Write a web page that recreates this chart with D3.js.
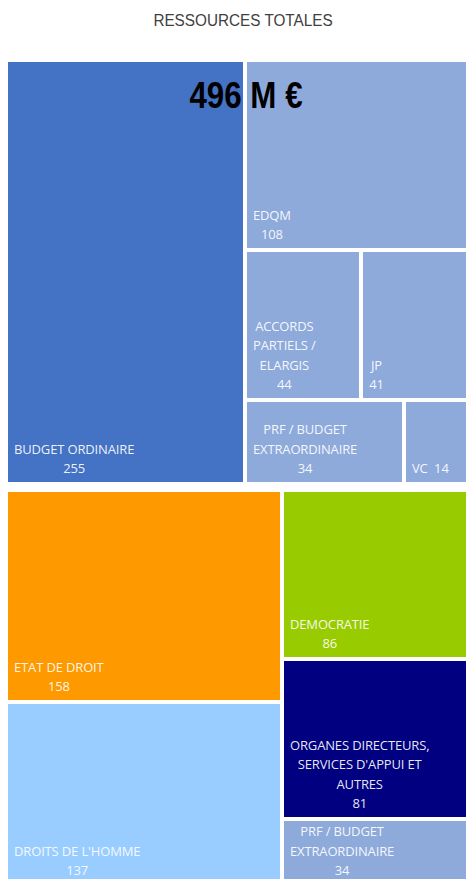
<!DOCTYPE html>
<html>
<head>
<meta charset="utf-8">
<script src="https://cdn.jsdelivr.net/npm/d3@7"></script>
<style>
  body { margin: 0; background: #fff; }
  svg { display: block; }
  .title { font-family: "Liberation Sans Narrow", "Arial Narrow", "Liberation Sans", Arial, sans-serif; }
  .cell-label { font-family: "Open Sans", "Noto Sans", sans-serif; font-size: 13px; fill: #fff; fill-opacity: 0.92; letter-spacing: -0.15px; }
</style>
</head>
<body>
<div id="chart"></div>
<script>
// ressources totales, en millions d'euros
const chartTitle = "RESSOURCES TOTALES"
const totalLabel = "496 M €"

// bloc du haut : par source de financement
const sourceNames = ["BUDGET ORDINAIRE", "EDQM", "ACCORDS|PARTIELS /|ELARGIS", "JP", "PRF / BUDGET|EXTRAORDINAIRE", "VC"]
const sourceValues = [255, 108, 44, 41, 34, 14]
const sourceColors = ["#4472c4", "#8eaadb", "#8eaadb", "#8eaadb", "#8eaadb", "#8eaadb"]

// bloc du bas : par pilier
const pillarNames = ["ETAT DE DROIT", "DROITS DE L'HOMME", "DEMOCRATIE", "ORGANES DIRECTEURS,|SERVICES D'APPUI ET|AUTRES", "PRF / BUDGET|EXTRAORDINAIRE"]
const pillarValues = [158, 137, 86, 81, 34]
const pillarColors = ["#ff9900", "#99ccff", "#99cc00", "#000080", "#8eaadb"]

const width = 466, height = 879

let svg = d3.select('#chart').append('svg')
    .attr('width', width)
    .attr('height', height)

// no narrow font installed: squeeze the regular one horizontally
svg.append('text')
    .attr('class', 'title')
    .attr('transform', 'translate(243,26) scale(0.9,1)')
    .attr('text-anchor', 'middle')
    .attr('font-size', 17)
    .attr('fill', '#404040')
    .text(chartTitle)

// helper: leaf object from the arrays
function leaf(names, values, colors, i) {
    return {name: names[i], value: values[i], color: colors[i]}
}

// nested groups so that sliceDice gives the same arrangement as the original
let sourceTree = {children: [
    leaf(sourceNames, sourceValues, sourceColors, 0),
    {children: [
        leaf(sourceNames, sourceValues, sourceColors, 1),
        {children: [leaf(sourceNames, sourceValues, sourceColors, 2), leaf(sourceNames, sourceValues, sourceColors, 3)]},
        {children: [leaf(sourceNames, sourceValues, sourceColors, 4), leaf(sourceNames, sourceValues, sourceColors, 5)]}
    ]}
]}

let pillarTree = {children: [
    {children: [leaf(pillarNames, pillarValues, pillarColors, 0), leaf(pillarNames, pillarValues, pillarColors, 1)]},
    {children: [
        leaf(pillarNames, pillarValues, pillarColors, 2),
        leaf(pillarNames, pillarValues, pillarColors, 3),
        leaf(pillarNames, pillarValues, pillarColors, 4)
    ]}
]}

function drawBlock(tree, x, y, w, h) {
    let root = d3.hierarchy(tree).sum(d => d.children ? 0 : d.value)
    d3.treemap()
        .tile(d3.treemapSliceDice)
        .size([w, h])
        .paddingInner(4)
        .round(true)(root)

    let g = svg.append('g').attr('transform', `translate(${x},${y})`)

    let cells = g.selectAll('g.cell')
        .data(root.leaves())
        .enter().append('g')
        .attr('class', 'cell')

    cells.append('rect')
        .attr('x', d => d.x0)
        .attr('y', d => d.y0)
        .attr('width', d => d.x1 - d.x0)
        .attr('height', d => d.y1 - d.y0)
        .attr('fill', d => d.data.color)

    cells.each(function (d) {
        let cell = d3.select(this)
        let lab = cell.append('g')
        let txt = lab.append('text').attr('class', 'cell-label').attr('text-anchor', 'middle')
        let lines = d.data.name.split('|')
        let narrow = (d.x1 - d.x0) < 70
        if (narrow) {
            // too small: name and value on one line
            txt.append('tspan').attr('x', 0).attr('y', 0).text(lines[0] + '\u00a0\u00a0' + d.value)
        } else {
            lines.forEach((l, i) => {
                txt.append('tspan').attr('x', 0).attr('y', (i - lines.length) * 19.5).text(l)
            })
            txt.append('tspan').attr('x', 0).attr('y', 0).text(d.value)
        }
        let bb = txt.node().getBBox()
        lab.attr('transform', `translate(${d.x0 + 6 - bb.x},${d.y1 - 9})`)
    })
    return g
}

drawBlock(sourceTree, 8, 62, 460, 420)
drawBlock(pillarTree, 8, 492, 460, 392)

svg.append('text')
    .attr('class', 'title')
    .attr('transform', 'translate(246,108) scale(0.87,1)')
    .attr('text-anchor', 'middle')
    .attr('font-size', 36)
    .attr('font-weight', 'bold')
    .attr('fill', '#000')
    .text(totalLabel)
</script>
</body>
</html>
